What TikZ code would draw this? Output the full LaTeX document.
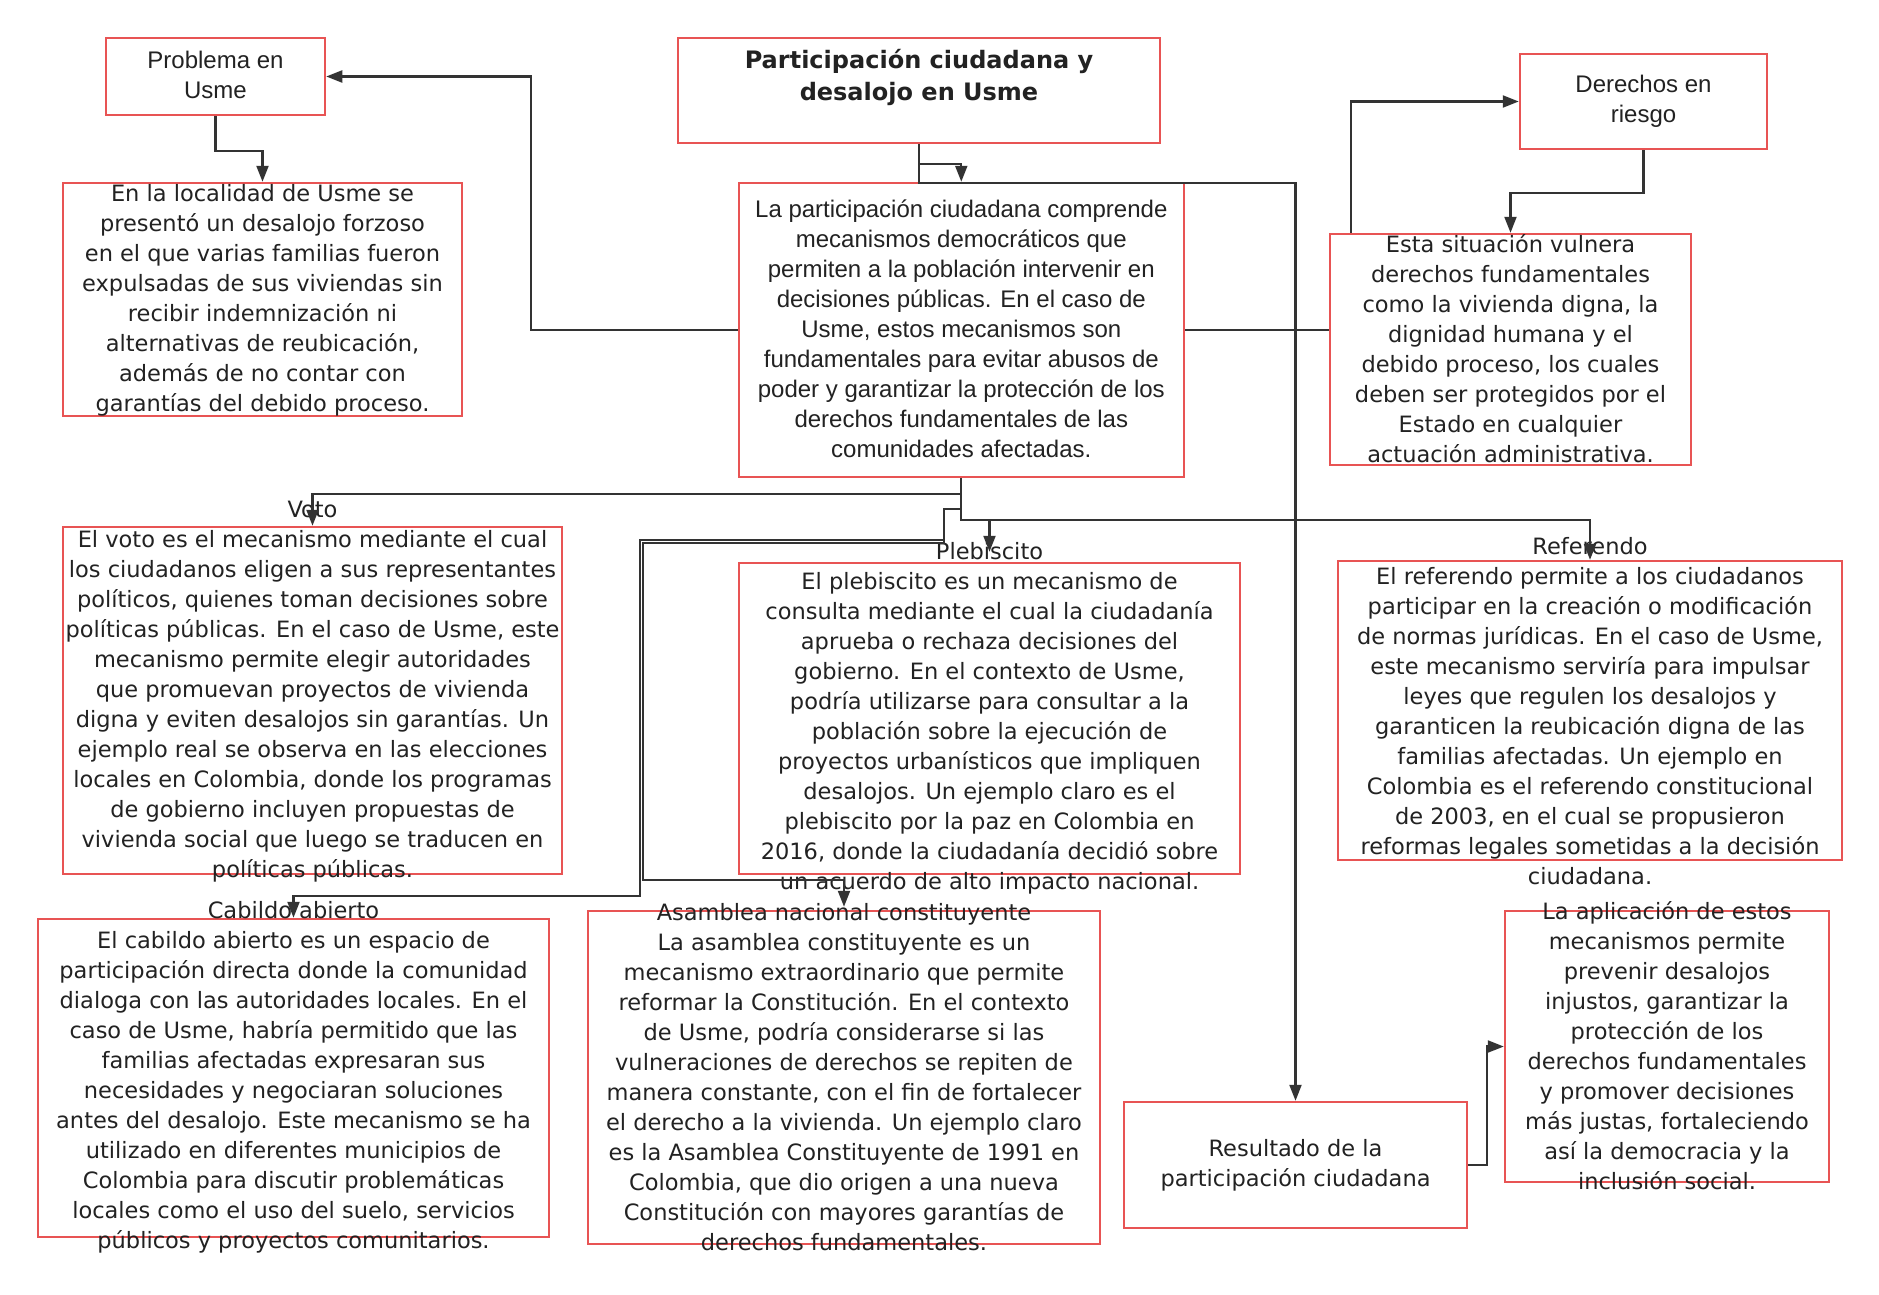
\documentclass[tikz,border=0pt]{standalone}
\usepackage{fontspec}
\setmainfont{DejaVu Sans}
\newfontfamily\arialf{Liberation Sans}
\usetikzlibrary{arrows.meta}
\definecolor{boxred}{RGB}{232,84,84}
\definecolor{linegray}{RGB}{51,51,51}
\definecolor{txt}{RGB}{34,34,34}
\begin{document}
\begin{tikzpicture}[x=1pt,y=-1pt,
  box/.style={draw=boxred, line width=2.5pt, inner sep=0pt},
  bodytext/.style={align=center, inner sep=0pt, text=txt, font=\fontsize{22.5}{30}\selectfont},
  ariatext/.style={align=center, inner sep=0pt, text=txt, font=\arialf\fontsize{24}{30}\selectfont},
  titletext/.style={align=center, inner sep=0pt, text=txt, font=\bfseries\fontsize{24}{32}\selectfont},
  conn/.style={draw=linegray, line width=2.2pt},
  arr/.style={conn, -{Triangle[length=16pt,width=12pt]}},
]
\useasboundingbox (0,0) rectangle (1879,1294);
\fill[white] (0,0) rectangle (1879,1294);

% boxes
\node[box, minimum width=219pt, minimum height=77pt] (prob) at (215.5,76.5) {};
\node[box, minimum width=482pt, minimum height=105pt] (title) at (919,90.5) {};
\node[box, minimum width=399pt, minimum height=233pt] (local) at (262.5,299.5) {};
\node[box, minimum width=445pt, minimum height=294pt] (central) at (961.3,330) {};
\node[box, minimum width=247pt, minimum height=95pt] (der) at (1643.5,101.5) {};
\node[box, minimum width=361pt, minimum height=231pt] (esta) at (1510.5,349.5) {};
\node[box, minimum width=499pt, minimum height=347pt] (voto) at (312.5,700.5) {};
\node[box, minimum width=501pt, minimum height=311pt] (pleb) at (989.5,718.5) {};
\node[box, minimum width=504pt, minimum height=299pt] (ref) at (1590,710.5) {};
\node[box, minimum width=511pt, minimum height=318pt] (cab) at (293.5,1078) {};
\node[box, minimum width=512pt, minimum height=333pt] (asam) at (844,1077.5) {};
\node[box, minimum width=343pt, minimum height=126pt] (res) at (1295.5,1165) {};
\node[box, minimum width=324pt, minimum height=271pt] (apl) at (1667,1046.5) {};

% texts
\node[ariatext] (probT) at (215.5,75) {Problema en\\Usme};
\node[titletext] (titleT) at (919,77.5) {Participación ciudadana y\\desalojo en Usme};
\node[bodytext] (localT) at (262.5,300) {En la localidad de Usme se\\presentó un desalojo forzoso\\en el que varias familias fueron\\expulsadas de sus viviendas sin\\recibir indemnización ni\\alternativas de reubicación,\\además de no contar con\\garantías del debido proceso.};
\node[ariatext] (centralT) at (961.3,329) {La participación ciudadana comprende\\mecanismos democráticos que\\permiten a la población intervenir en\\decisiones públicas. En el caso de\\Usme, estos mecanismos son\\fundamentales para evitar abusos de\\poder y garantizar la protección de los\\derechos fundamentales de las\\comunidades afectadas.};
\node[ariatext] (derT) at (1643.5,101) {Derechos en\\riesgo};
\node[bodytext] (estaT) at (1510.5,349) {Esta situación vulnera\\derechos fundamentales\\como la vivienda digna, la\\dignidad humana y el\\debido proceso, los cuales\\deben ser protegidos por el\\Estado en cualquier\\actuación administrativa.};
\node[bodytext] (votoT) at (312.5,692) {Voto\\El voto es el mecanismo mediante el cual\\los ciudadanos eligen a sus representantes\\políticos, quienes toman decisiones sobre\\políticas públicas. En el caso de Usme, este\\mecanismo permite elegir autoridades\\que promuevan proyectos de vivienda\\digna y eviten desalojos sin garantías. Un\\ejemplo real se observa en las elecciones\\locales en Colombia, donde los programas\\de gobierno incluyen propuestas de\\vivienda social que luego se traducen en\\políticas públicas.};
\node[bodytext] (plebT) at (989.5,718.5) {Plebiscito\\El plebiscito es un mecanismo de\\consulta mediante el cual la ciudadanía\\aprueba o rechaza decisiones del\\gobierno. En el contexto de Usme,\\podría utilizarse para consultar a la\\población sobre la ejecución de\\proyectos urbanísticos que impliquen\\desalojos. Un ejemplo claro es el\\plebiscito por la paz en Colombia en\\2016, donde la ciudadanía decidió sobre\\un acuerdo de alto impacto nacional.};
\node[bodytext] (refT) at (1590,711) {Referendo\\El referendo permite a los ciudadanos\\participar en la creación o modificación\\de normas jurídicas. En el caso de Usme,\\este mecanismo serviría para impulsar\\leyes que regulen los desalojos y\\garanticen la reubicación digna de las\\familias afectadas. Un ejemplo en\\Colombia es el referendo constitucional\\de 2003, en el cual se propusieron\\reformas legales sometidas a la decisión\\ciudadana.};
\node[bodytext] (cabT) at (293.5,1077) {Cabildo abierto\\El cabildo abierto es un espacio de\\participación directa donde la comunidad\\dialoga con las autoridades locales. En el\\caso de Usme, habría permitido que las\\familias afectadas expresaran sus\\necesidades y negociaran soluciones\\antes del desalojo. Este mecanismo se ha\\utilizado en diferentes municipios de\\Colombia para discutir problemáticas\\locales como el uso del suelo, servicios\\públicos y proyectos comunitarios.};
\node[bodytext] (asamT) at (844,1077) {Asamblea nacional constituyente\\La asamblea constituyente es un\\mecanismo extraordinario que permite\\reformar la Constitución. En el contexto\\de Usme, podría considerarse si las\\vulneraciones de derechos se repiten de\\manera constante, con el fin de fortalecer\\el derecho a la vivienda. Un ejemplo claro\\es la Asamblea Constituyente de 1991 en\\Colombia, que dio origen a una nueva\\Constitución con mayores garantías de\\derechos fundamentales.};
\node[bodytext] (resT) at (1295.5,1165) {Resultado de la\\participación ciudadana};
\node[bodytext] (aplT) at (1667,1046) {La aplicación de estos\\mecanismos permite\\prevenir desalojos\\injustos, garantizar la\\protección de los\\derechos fundamentales\\y promover decisiones\\más justas, fortaleciendo\\así la democracia y la\\inclusión social.};

% bend points
\coordinate (j1) at (944,509);
\coordinate (j2) at (640,540);
\coordinate (j3) at (640,896);
\coordinate (k2) at (643,543);
\coordinate (k3) at (643,880);

% connectors
\draw[arr] (title.south) -- ++(0,20) -| (central.north);
\draw[arr] (title.south) -- ++(0,39) -| (res.north);
\draw[arr] (central.west) -- ++(-206.6,0) |- (prob.east);
\draw[arr] (prob.south) -- ++(0,35) -| (local.north);
\draw[conn] (central.east) -- (central.east -| esta.west);
\draw[arr] ([xshift=22pt]esta.north west) |- (der.west);
\draw[arr] (der.south) -- ++(0,43) -| (esta.north);
\draw[arr] (central.south) -- ++(0,16) -| (voto.north);
\draw[arr] (central.south) -- ++(0,42) -| ([yshift=10pt]pleb.north);
\draw[arr] (central.south) -- ++(0,42) -| (ref.north);
\draw[arr] (central.south) |- (j1) |- (j2) -- (j3) -| (cab.north);
\draw[arr] (central.south) |- (j1) |- (k2) -- (k3) -| ([yshift=3pt]asam.north);
\draw[arr] (res.east) -- ++(19,0) |- (apl.west);
\end{tikzpicture}
\end{document}
